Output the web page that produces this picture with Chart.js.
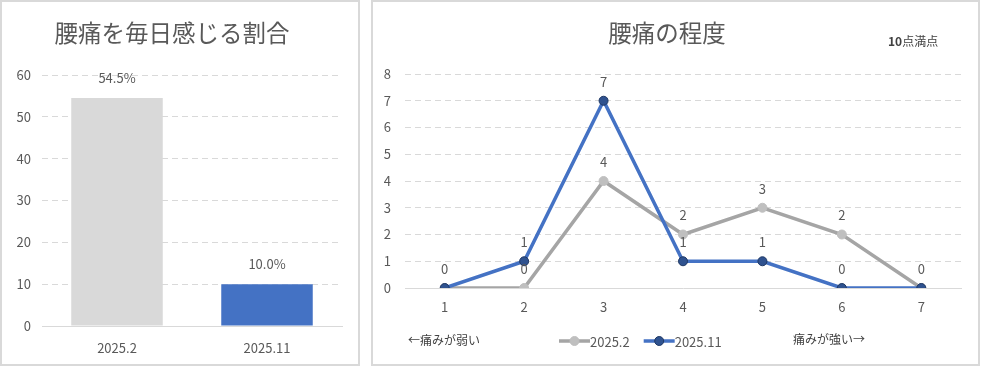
<!DOCTYPE html>
<html lang="ja">
<head>
  <meta charset="UTF-8" />
  <title>腰痛アンケート</title>
  <style>
    body { margin: 0; background: #fff; }
    .panel {
      position: absolute;
      top: 0;
      height: 366px;
      box-sizing: border-box;
      border: 2px solid #D9D9D9;
      background: #fff;
    }
    canvas { display: block; }
  </style>
</head>
<body>
  <div class="panel" style="left:0; width:360px;">
    <canvas id="rateChart" width="356" height="362"></canvas>
  </div>
  <div class="panel" style="left:371px; width:609px;">
    <canvas id="painChart" width="605" height="362"></canvas>
  </div>

  <script src="https://cdn.jsdelivr.net/npm/chart.js"></script>
  <script>
    // data
    const rateLabels = ['2025.2', '2025.11'];
    const rateValues = [54.5, 10.0];
    const rateTicks = { max: 60, step: 10 };

    const painLevels = ['1', '2', '3', '4', '5', '6', '7'];
    const painFeb = [0, 0, 4, 2, 3, 2, 0];
    const painNov = [0, 1, 7, 1, 1, 0, 0];
    const painSeries = ['2025.2', '2025.11'];
    const painTicks = { max: 8, step: 1 };

    const FONT = "'Noto Sans CJK JP', 'Noto Sans', sans-serif";
    const GREY_TEXT = '#595959';
    const GRID = '#D9D9D9';

    // draws the value above every bar / point (same text at same spot only once)
    const valueLabels = {
      id: 'valueLabels',
      afterDatasetsDraw(chart, args, opts) {
        const ctx = chart.ctx;
        const seen = new Set();
        ctx.save();
        ctx.font = '13px ' + FONT;
        ctx.fillStyle = GREY_TEXT;
        ctx.textAlign = 'center';
        ctx.textBaseline = 'middle';
        chart.data.datasets.forEach((ds, i) => {
          const meta = chart.getDatasetMeta(i);
          meta.data.forEach((el, j) => {
            const txt = ds.data[j].toFixed(opts.decimals) + opts.suffix;
            const key = Math.round(el.x) + ',' + Math.round(el.y) + ',' + txt;
            if (seen.has(key)) return;
            seen.add(key);
            ctx.fillText(txt, el.x, el.y - opts.offset);
          });
        });
        ctx.restore();
      }
    };

    // legend + side notes for the line chart
    const painNotes = {
      id: 'painNotes',
      afterDraw(chart) {
        const ctx = chart.ctx;
        ctx.save();
        ctx.textBaseline = 'middle';

        // legend
        let x = 186;
        const y = 339;
        ctx.font = '13px ' + FONT;
        chart.data.datasets.forEach((ds) => {
          ctx.strokeStyle = ds.borderColor;
          ctx.lineWidth = ds.borderWidth;
          ctx.beginPath();
          ctx.moveTo(x, y);
          ctx.lineTo(x + 31, y);
          ctx.stroke();
          ctx.beginPath();
          ctx.arc(x + 15.5, y, ds.pointRadius, 0, Math.PI * 2);
          ctx.fillStyle = ds.pointBackgroundColor;
          ctx.fill();
          ctx.lineWidth = ds.pointBorderWidth;
          ctx.strokeStyle = ds.pointBorderColor;
          ctx.stroke();
          ctx.fillStyle = GREY_TEXT;
          ctx.textAlign = 'left';
          ctx.fillText(ds.label, x + 31, y + 1);
          x += 31 + ctx.measureText(ds.label).width + 14;
        });

        // notes
        ctx.fillStyle = '#404040';
        ctx.font = '12px ' + FONT;
        ctx.textAlign = 'left';
        ctx.fillText('←痛みが弱い', 35, 338);
        ctx.fillText('痛みが強い→', 420, 337);
        ctx.font = 'bold 12px ' + FONT;
        ctx.fillText('10', 515, 39);
        const w = ctx.measureText('10').width;
        ctx.font = '12px ' + FONT;
        ctx.fillText('点満点', 515 + w, 39);
        ctx.restore();
      }
    };

    const titleOpts = (text, bottom) => ({
      display: true,
      text: text,
      color: GREY_TEXT,
      font: { family: FONT, size: 23.5, weight: 'normal' },
      padding: { top: 17, bottom: bottom }
    });

    new Chart(document.getElementById('rateChart'), {
      type: 'bar',
      data: {
        labels: rateLabels,
        datasets: [{
          data: rateValues,
          backgroundColor: ['#D9D9D9', '#4472C4'],
          categoryPercentage: 1,
          barPercentage: 0.61
        }]
      },
      plugins: [valueLabels],
      options: {
        responsive: false,
        animation: false,
        layout: { padding: { left: 0, right: 16, top: 0, bottom: 0 } },
        plugins: {
          legend: { display: false },
          tooltip: { enabled: false },
          title: titleOpts('腰痛を毎日感じる割合', 27.8),
          valueLabels: { decimals: 1, suffix: '%', offset: 20 }
        },
        scales: {
          x: {
            grid: { display: false, drawTicks: false },
            border: { display: true, color: GRID, width: 1 },
            ticks: { color: GREY_TEXT, font: { family: FONT, size: 13 }, padding: 14 },
            afterFit: (s) => { s.height = 38; }
          },
          y: {
            min: 0,
            max: rateTicks.max,
            grid: { color: GRID, drawTicks: false },
            border: { display: false, dash: [6, 4] },
            ticks: { stepSize: rateTicks.step, color: GREY_TEXT, font: { family: FONT, size: 13 }, padding: 11 },
            afterFit: (s) => { s.width = 40; }
          }
        }
      }
    });

    new Chart(document.getElementById('painChart'), {
      type: 'line',
      data: {
        labels: painLevels,
        datasets: [{
          label: painSeries[0],
          data: painFeb,
          borderColor: '#A5A5A5',
          borderWidth: 3.5,
          pointRadius: 4.5,
          pointBackgroundColor: '#BFBFBF',
          pointBorderColor: '#BFBFBF',
          pointBorderWidth: 1,
          order: 2
        }, {
          label: painSeries[1],
          data: painNov,
          borderColor: '#4472C4',
          borderWidth: 3.5,
          pointRadius: 4.5,
          pointBackgroundColor: '#2F528F',
          pointBorderColor: '#1F3864',
          pointBorderWidth: 1,
          order: 1
        }]
      },
      plugins: [valueLabels, painNotes],
      options: {
        responsive: false,
        animation: false,
        layout: { padding: { left: 0, right: 17, top: 0, bottom: 0 } },
        plugins: {
          legend: { display: false },
          tooltip: { enabled: false },
          title: titleOpts('腰痛の程度', 26.8),
          valueLabels: { decimals: 0, suffix: '', offset: 19 }
        },
        scales: {
          x: {
            offset: true,
            grid: { display: false, drawTicks: false },
            border: { display: true, color: GRID, width: 1 },
            ticks: { color: GREY_TEXT, font: { family: FONT, size: 13 }, padding: 11 },
            afterFit: (s) => { s.height = 76; }
          },
          y: {
            min: 0,
            max: painTicks.max,
            grid: { color: GRID, drawTicks: false },
            border: { display: false, dash: [6, 4] },
            ticks: { stepSize: painTicks.step, color: GREY_TEXT, font: { family: FONT, size: 13 }, padding: 14 },
            afterFit: (s) => { s.width = 32; }
          }
        }
      }
    });
  </script>
</body>
</html>
